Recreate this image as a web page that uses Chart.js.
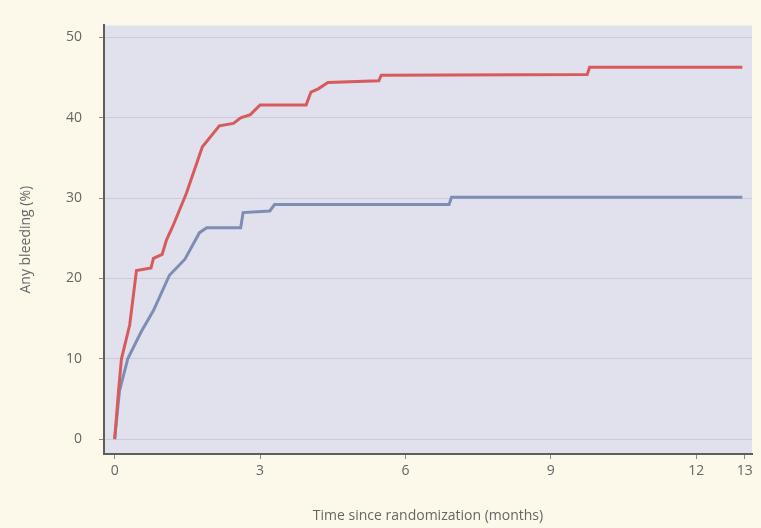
<!DOCTYPE html>
<html>
<head>
<meta charset="utf-8">
<script src="https://cdn.jsdelivr.net/npm/chart.js@4.4.0/dist/chart.umd.min.js"></script>
<style>
  html, body { margin: 0; padding: 0; background: #fcf9ea; }
  #wrap { width: 761px; height: 528px; }
</style>
</head>
<body>
<div id="wrap"><canvas id="bleedChart" width="761" height="528"></canvas></div>
<script>
// tick labels
const xTicks = [0, 3, 6, 9, 12, 13];
const yTicks = [0, 10, 20, 30, 40, 50];

// red curve (months, %)
const redMonths = [0, 0.08, 0.14, 0.31, 0.45, 0.75, 0.8, 0.98, 1.07, 1.2, 1.48, 1.81, 2.16, 2.45, 2.6, 2.8, 3.0, 3.95, 4.05, 4.2, 4.4, 5.45, 5.5, 9.75, 9.8, 12.95];
const redValues = [0, 6, 10, 14.2, 21, 21.3, 22.5, 23, 24.8, 26.5, 30.6, 36.4, 39, 39.3, 40, 40.4, 41.6, 41.6, 43.2, 43.6, 44.4, 44.6, 45.3, 45.4, 46.3, 46.3];

// blue curve (months, %)
const blueMonths = [0, 0.1, 0.27, 0.55, 0.8, 1.13, 1.45, 1.75, 1.9, 2.6, 2.65, 3.2, 3.3, 6.9, 6.95, 12.95];
const blueValues = [0, 6, 10, 13.4, 16, 20.4, 22.4, 25.7, 26.3, 26.3, 28.2, 28.4, 29.2, 29.2, 30.1, 30.1];

const toPoints = (xs, ys) => xs.map((x, i) => ({ x: x, y: ys[i] }));

// lavender plot background
const plotBg = {
    id: 'plotBg',
    beforeDraw(chart) {
        const a = chart.chartArea;
        const ctx = chart.ctx;
        ctx.save();
        ctx.fillStyle = '#e0e1ed';
        ctx.fillRect(a.left, a.top, a.right - a.left, a.bottom - a.top);
        ctx.restore();
    }
};

const tickFont = { family: 'Open Sans', size: 14 };

const ctx = document.getElementById('bleedChart').getContext('2d');
new Chart(ctx, {
    type: 'line',
    data: {
        datasets: [{
            data: toPoints(redMonths, redValues),
            borderColor: '#d75a5c',
            borderWidth: 3,
            pointRadius: 0,
            tension: 0
        }, {
            data: toPoints(blueMonths, blueValues),
            borderColor: '#7f8db4',
            borderWidth: 3,
            pointRadius: 0,
            tension: 0
        }]
    },
    options: {
        responsive: false,
        animation: false,
        layout: { padding: { top: 20, right: 9, left: 0, bottom: 0 } },
        plugins: {
            legend: { display: false },
            tooltip: { enabled: false }
        },
        scales: {
            x: {
                type: 'linear',
                min: -0.22,
                max: 13.15,
                afterBuildTicks: s => { s.ticks = xTicks.map(v => ({ value: v })); },
                afterFit: s => { s.height = 74; },
                grid: { drawOnChartArea: false, tickLength: 5, tickColor: '#8a8a8a' },
                border: { display: true, color: '#5e5e5e', width: 2 },
                ticks: { color: '#666', font: tickFont, padding: 4, maxRotation: 0 },
                title: {
                    display: true,
                    text: 'Time since randomization (months)',
                    color: '#666',
                    font: tickFont,
                    padding: { top: 6 }
                }
            },
            y: {
                min: -1.85,
                max: 51.5,
                afterBuildTicks: s => { s.ticks = yTicks.map(v => ({ value: v })); },
                afterFit: s => { s.width = 104; },
                grid: { color: 'rgba(170,172,190,0.4)', lineWidth: 1, tickLength: 5, tickColor: '#8a8a8a' },
                border: { display: true, color: '#5e5e5e', width: 2 },
                ticks: { color: '#666', font: tickFont, padding: 17 },
                title: {
                    display: true,
                    text: 'Any bleeding (%)',
                    color: '#666',
                    font: { family: 'Open Sans', size: 14 },
                    padding: { top: 18, bottom: 0 }
                }
            }
        }
    },
    plugins: [plotBg]
});
</script>
</body>
</html>
